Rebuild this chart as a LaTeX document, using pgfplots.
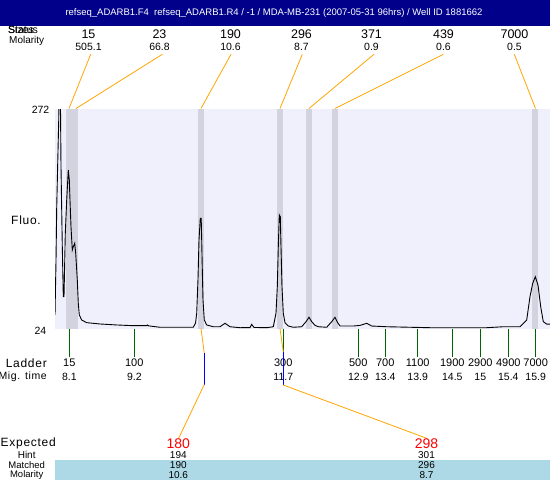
\documentclass[border=0pt]{standalone}
\usepackage{fontspec}
\setmainfont{Liberation Sans}
\newfontfamily\spaced[LetterSpace=6]{Liberation Sans}
\usepackage{pgfplots}
\pgfplotsset{compat=1.18}
\definecolor{titlebg}{RGB}{0,0,139}
\definecolor{lav}{RGB}{240,240,252}
\definecolor{bandc}{RGB}{211,211,224}
\definecolor{org}{RGB}{255,165,0}
\definecolor{dgreen}{RGB}{0,100,0}
\definecolor{lblue}{RGB}{173,216,230}
\newcommand{\fs}[1]{\fontsize{#1}{#1}\selectfont}
\begin{document}
\begin{tikzpicture}
\useasboundingbox (0,0) rectangle (550pt,-480pt);
\begin{axis}[at={(55pt,-328.5pt)}, anchor=south west, scale only axis,
  width=495pt, height=219.5pt, xmin=55, xmax=550, ymin=24, ymax=272,
  axis line style={draw=none}, xtick=\empty, ytick=\empty, clip=true]
\fill[lav] (axis cs:55,24) rectangle (axis cs:550,272);
\fill[bandc] (axis cs:66,24) rectangle (axis cs:78,272);
\fill[bandc] (axis cs:198,24) rectangle (axis cs:204,272);
\fill[bandc] (axis cs:277,24) rectangle (axis cs:283,272);
\fill[bandc] (axis cs:306,24) rectangle (axis cs:312,272);
\fill[bandc] (axis cs:332,24) rectangle (axis cs:338,272);
\fill[bandc] (axis cs:532,24) rectangle (axis cs:538,272);
\addplot[black, line width=0.9pt, mark=none] coordinates {
(55,39.3) (55.5,70) (56,100) (56.7,160) (57.7,210) (58.7,258) (59.3,300) (60.3,300)
(61,207) (62.3,116.4) (63.3,60) (64,60) (65.3,131.6) (66.7,169) (68.3,203)
(69.3,191.8) (70,169) (71,139) (72.3,112.7) (73.3,116.4) (74.7,120.3) (75.7,109)
(77.3,78.8) (78.3,52.5) (79.3,39.3) (81.7,33.6) (86.7,30.6) (100,29.1) (116.7,28)
(133,27.2) (146.7,27.2) (147.5,28) (148.5,27) (160,25.4) (193.3,25.4) (195.5,30)
(196.7,41) (198,80) (199,124) (200.3,148.5) (201.2,148.5) (201.7,124) (202.5,80) (203,56)
(204.3,33.6) (206.7,28) (213.3,26) (220,26) (225,29.9) (230,26) (240,24.9)
(250,25) (251.7,28.7) (254,25.2) (266.7,24.9) (273.3,26) (276,41.2) (277.3,71)
(278.3,116.4) (279.3,152.3) (280.3,150.3) (281,116.4) (282,71) (283.3,41.2)
(285,30.6) (288.3,26.8) (293.3,25.4) (301.7,26) (306,31.7) (309,36.7) (311.7,31.7)
(315,27.6) (318.3,26) (326.7,25.4) (331.7,31.7) (335,36.7) (337.7,30.6) (340,26.8)
(353.3,26.8) (360,27.5) (366.7,29.9) (371.7,26.8) (386.7,26) (430,24.9) (486.7,24.9)
(503.3,26) (520,26) (526.7,33.6) (530,60) (532.7,75) (535.3,82.5) (538,73)
(540.7,48.6) (543.3,31.7) (546.7,29) (550,29)};
\end{axis}
\begin{scope}[x=1pt,y=-1pt]
% title bar
\fill[titlebg] (0,0) rectangle (550,25.5);
\node[white, font=\fs{9.5}] at (274,13.5) {refseq\_ADARB1.F4\ \ refseq\_ADARB1.R4 / -1 / MDA-MB-231 (2007-05-31 96hrs) / Well ID 1881662};
% top-left labels
\node[anchor=west, font=\fs{10.5}, inner sep=0] at (8,29.5) {Status};
\node[anchor=west, font=\fs{10.5}, inner sep=0] at (8,29.5) {Sizes};
\node[anchor=west, font=\fs{10}, inner sep=0] at (9,41) {Molarity};
% top peak labels
\foreach \x/\s/\m in {88.5/15/505.1, 159.5/23/66.8, 230.5/190/10.6, 301.5/296/8.7, 371.5/371/0.9, 443.5/439/0.6, 514.5/7000/0.5}{
  \node[font=\fs{12.5}, inner sep=0] at (\x,34.5) {\s};
  \node[font=\fs{10.5}, inner sep=0] at (\x,46.7) {\m};
}
% orange lines to bands
\draw[org, line width=0.8pt] (90.7,54.3) -- (69,108.5);
\draw[org, line width=0.8pt] (162.3,54.3) -- (76,108.5);
\draw[org, line width=0.8pt] (231,54.3) -- (201,108.5);
\draw[org, line width=0.8pt] (302.3,54.3) -- (280,108.5);
\draw[org, line width=0.8pt] (374,54.3) -- (309,108.5);
\draw[org, line width=0.8pt] (443.3,54.3) -- (335,108.5);
\draw[org, line width=0.8pt] (514.3,54.3) -- (535.5,108.5);
% y labels
\node[anchor=east, font=\fs{10.5}, inner sep=0] at (49.5,110) {272};
\node[anchor=east, font=\fs{10.5}, inner sep=0] at (46.5,330.5) {24};
\node[font=\spaced\fs{12}, inner sep=0] at (26,220) {Fluo.};
% ladder ticks and labels
\foreach \x/\l/\t in {69.3/15/8.1, 134.3/100/9.2, 283.3/300/11.7, 358.3/500/12.9, 385.3/700/13.4, 417.7/1100/13.9, 452.3/1900/14.5, 480.3/2900/15, 508.3/4900/15.4, 535.7/7000/15.9}{
  \draw[dgreen, line width=0.9pt] (\x,328.5) -- (\x,357);
  \node[font=\fs{11}, inner sep=0] at (\x,363.2) {\l};
  \node[font=\fs{10.5}, inner sep=0] at (\x,377) {\t};
}
\node[anchor=east, font=\spaced\fs{12}, inner sep=0] at (47,363.2) {Ladder};
\node[anchor=east, font=\spaced\fs{10.5}, inner sep=0] at (47,377) {Mig. time};
% expected connection lines
\draw[org, line width=0.8pt] (201,328.5) -- (204.3,353.3);
\draw[blue, line width=0.9pt] (204.3,353.3) -- (204.3,384.5);
\draw[org, line width=0.8pt] (204.3,384.5) -- (178.3,439);
\draw[org, line width=0.8pt] (280,328.5) -- (283.3,352);
\draw[blue, line width=0.9pt] (283.3,352) -- (283.3,385);
\draw[org, line width=0.8pt] (283.3,385) -- (426.7,438.3);
% bottom table
\fill[lblue] (55,460) rectangle (550,480);
\node[anchor=west, font=\spaced\fs{12}, inner sep=0] at (0.5,443.5) {Expected};
\node[font=\fs{10}, inner sep=0] at (26.7,455) {Hint};
\node[font=\fs{9.5}, inner sep=0] at (26.7,465) {Matched};
\node[font=\fs{9.5}, inner sep=0] at (26.7,475) {Molarity};
\foreach \x/\e/\h/\mm/\mo in {178.3/180/194/190/10.6, 426.5/298/301/296/8.7}{
  \node[red, font=\fs{14}, inner sep=0] at (\x,443.8) {\e};
  \node[font=\fs{10}, inner sep=0] at (\x,455.3) {\h};
  \node[font=\fs{10}, inner sep=0] at (\x,465.3) {\mm};
  \node[font=\fs{10}, inner sep=0] at (\x,474.8) {\mo};
}
\end{scope}
\end{tikzpicture}
\end{document}
